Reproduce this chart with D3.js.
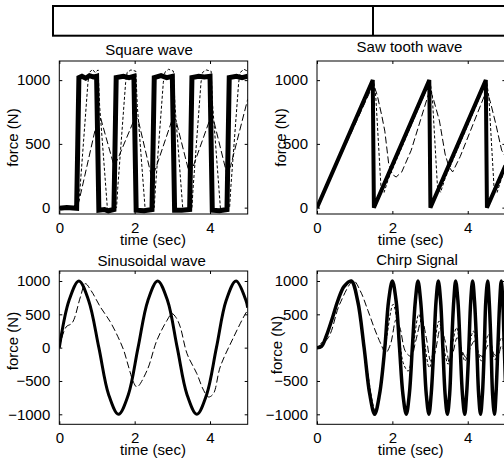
<!DOCTYPE html>
<html>
<head>
<meta charset="UTF-8">
<title>Force tracking</title>
<script src="https://d3js.org/d3.v7.min.js"></script>
<style>
body { margin: 0; background: #fff; }
text { font-family: Arial, "Liberation Sans", Helvetica, sans-serif; font-size: 15px; fill: #000; }
</style>
</head>
<body>
<div id="fig"></div>
<script>

// ---- data : [time (sec), force (N)]

var xTicks = [0, 2, 4]
var yTicksTop = [0, 500, 1000]
var yTicksBottom = [-1000, -500, 0, 500, 1000]

var squareThick = [[0,-5],[0.2,0],[0.46,-5],[0.49,500],[0.52,1020],[0.6,1030],[0.7,1015],[0.8,1035],[0.9,1025],[0.99,1030],[1.02,500],[1.05,-20],[1.2,-15],[1.3,-25],[1.45,-15],[1.48,500],[1.51,1020],[1.7,1030],[1.85,1020],[1.98,1030],[2.01,500],[2.04,-20],[2.25,-25],[2.46,-15],[2.49,500],[2.52,1020],[2.7,1035],[2.85,1020],[3.0,1030],[3.03,500],[3.06,-20],[3.25,-20],[3.46,-15],[3.49,500],[3.52,1020],[3.7,1030],[3.85,1025],[4.0,1030],[4.03,500],[4.06,-20],[4.25,-25],[4.45,-15],[4.48,500],[4.51,1020],[4.7,1030],[4.85,1020],[5.0,1030]]
var squareDotted = [[0,0],[0.5,0],[0.55,150],[0.76,980],[0.8,1060],[0.88,1085],[0.95,1060],[1.03,1080],[1.07,800],[1.28,-20],[1.52,0],[1.55,150],[1.76,980],[1.8,1060],[1.9,1080],[2.03,1070],[2.07,800],[2.28,-20],[2.52,0],[2.55,150],[2.76,980],[2.8,1060],[2.9,1085],[3.03,1070],[3.07,800],[3.28,-20],[3.52,0],[3.55,150],[3.76,980],[3.8,1060],[3.9,1080],[4.03,1070],[4.07,800],[4.28,-20],[4.52,0],[4.55,150],[4.76,980],[4.8,1060],[4.9,1085],[5.0,1070]]
var squareDashed = [[0,0],[0.48,0],[0.6,150],[1.05,740],[1.1,700],[1.45,330],[1.55,380],[2.03,720],[2.1,680],[2.45,240],[2.55,300],[3.03,720],[3.1,680],[3.45,270],[3.55,320],[4.03,720],[4.1,680],[4.45,260],[4.55,330],[5.0,850]]

var sawThick = [[0,0],[1.48,1000],[1.51,0],[2.98,1000],[3.01,0],[4.48,1000],[4.51,0],[5,330]]
var sawDotted = [[0,0],[1.5,990],[1.56,870],[1.7,150],[1.78,120],[1.9,230],[3.0,990],[3.06,870],[3.2,150],[3.28,120],[3.4,230],[4.5,990],[4.56,870],[4.7,150],[4.78,120],[4.9,230],[5,300]]
var sawDashed = [[0,0],[1.5,970],[1.6,880],[1.72,720],[1.8,600],[1.9,350],[2.0,260],[2.1,240],[2.25,280],[2.5,450],[3.0,930],[3.1,840],[3.25,680],[3.4,420],[3.5,320],[3.6,280],[3.8,400],[4.5,920],[4.6,830],[4.75,650],[4.9,450],[5,400]]

var sineThick = [[0,0],[0.26,710],[0.52,1000],[0.78,705],[1.05,0],[1.31,-705],[1.57,-1000],[1.83,-710],[2.09,0],[2.35,705],[2.61,1000],[2.87,710],[3.13,0],[3.39,-705],[3.65,-1000],[3.91,-705],[4.17,0],[4.43,710],[4.69,1000],[4.95,715],[5.0,600]]
var sineDashed = [[0,0],[0.18,310],[0.34,370],[0.56,760],[0.69,960],[0.85,850],[1.09,610],[1.35,390],[1.55,170],[1.71,-40],[1.84,-290],[1.97,-520],[2.06,-590],[2.33,-340],[2.59,110],[2.86,410],[2.99,510],[3.1,450],[3.21,310],[3.39,-90],[3.65,-390],[3.83,-640],[3.96,-740],[4.09,-690],[4.27,-290],[4.62,150],[4.93,500],[5,560]]

var chirpThick = [[0,0],[0.12,20],[0.25,180],[0.4,430],[0.55,700],[0.72,920],[0.91,1000],[1.08,700],[1.25,0],[1.4,-700],[1.53,-1000],[1.66,-700],[1.8,0],[1.9,700],[2.0,1000],[2.1,700],[2.19,0],[2.28,-700],[2.37,-1000],[2.45,-700],[2.53,0],[2.61,700],[2.68,1000],[2.75,700],[2.83,0],[2.9,-700],[2.97,-1000],[3.03,-700],[3.1,0],[3.16,700],[3.22,1000],[3.28,700],[3.34,0],[3.4,-700],[3.46,-1000],[3.52,-700],[3.57,0],[3.63,700],[3.68,1000],[3.74,700],[3.8,0],[3.86,-700],[3.92,-1000],[3.97,-700],[4.03,0],[4.08,700],[4.13,1000],[4.18,700],[4.24,0],[4.29,-700],[4.34,-1000],[4.39,-700],[4.44,0],[4.48,700],[4.53,1000],[4.57,700],[4.62,0],[4.66,-700],[4.71,-1000],[4.75,-700],[4.8,0],[4.85,700],[4.89,1000],[4.93,700],[4.97,0],[5.0,-500]]
var chirpDotted = [[0,0],[0.25,170],[0.5,620],[0.75,930],[0.93,980],[1.1,650],[1.3,-200],[1.55,-950],[1.7,-500],[1.85,150],[2.02,650],[2.15,300],[2.3,-250],[2.42,-350],[2.55,0],[2.7,500],[2.82,200],[2.98,-300],[3.1,0],[3.24,400],[3.35,50],[3.48,-250],[3.58,0],[3.7,300],[3.8,50],[3.93,-200],[4.03,0],[4.15,250],[4.25,0],[4.36,-200],[4.45,0],[4.55,200],[4.63,0],[4.73,-180],[4.8,0],[4.9,150],[5,-50]]
var chirpDashed = [[0,0],[0.3,150],[0.6,650],[0.97,1000],[1.15,850],[1.35,560],[1.55,250],[1.7,50],[1.82,-80],[1.95,50],[2.1,420],[2.2,300],[2.35,-60],[2.5,-130],[2.62,100],[2.78,420],[2.9,150],[3.02,-200],[3.12,-100],[3.28,300],[3.4,100],[3.52,-230],[3.62,-50],[3.72,150],[3.85,-50],[3.96,-150],[4.07,0],[4.18,100],[4.3,-100],[4.4,-130],[4.5,0],[4.6,80],[4.7,-100],[4.8,-120],[4.9,30],[5,-50]]

// ---- layout

var W = 504, H = 466

var svg = d3.select("#fig").append("svg")
	.attr("width", W)
	.attr("height", H)

// the box strip along the top
svg.append("rect")
	.attr("x", 53).attr("y", 6)
	.attr("width", 470).attr("height", 29.7)
	.attr("fill", "none").attr("stroke", "#000").attr("stroke-width", 2)
svg.append("line")
	.attr("x1", 373).attr("x2", 373).attr("y1", 6).attr("y2", 35.7)
	.attr("stroke", "#000").attr("stroke-width", 2)

var panels = [
	{ id: "sq", title: "Square wave", left: 59.3, right: 247.7, top: 61, bottom: 214, ydom: [-50, 1150], yticks: yTicksTop,
	  titleX: 149, titleY: 55, ylabX: 12.5, ylabY: 137.5, curve: d3.curveLinear, thickW: 5,
	  thick: squareThick, dotted: squareDotted, dashed: squareDashed },
	{ id: "saw", title: "Saw tooth wave", left: 317, right: 505.4, top: 61, bottom: 214, ydom: [-50, 1150], yticks: yTicksTop,
	  titleX: 409.5, titleY: 52, ylabX: 281, ylabY: 137.5, curve: d3.curveLinear, thickW: 4,
	  thick: sawThick, dotted: sawDotted, dashed: sawDashed },
	{ id: "sin", title: "Sinusoidal wave", left: 59.3, right: 247.7, top: 271, bottom: 424.3, ydom: [-1150, 1150], yticks: yTicksBottom,
	  titleX: 151.7, titleY: 266, ylabX: 12.5, ylabY: 341, curve: d3.curveCatmullRom, thickW: 3,
	  thick: sineThick, dotted: null, dashed: sineDashed },
	{ id: "chirp", title: "Chirp Signal", left: 317, right: 505.4, top: 271, bottom: 424.3, ydom: [-1150, 1150], yticks: yTicksBottom,
	  titleX: 417, titleY: 265, ylabX: 277, ylabY: 345, curve: d3.curveCatmullRom, thickW: 3.5,
	  thick: chirpThick, dotted: chirpDotted, dashed: chirpDashed }
]

panels.forEach(function(p) {
	var x = d3.scaleLinear().domain([0, 5]).range([p.left, p.right])
	var y = d3.scaleLinear().domain(p.ydom).range([p.bottom, p.top])
	var g = svg.append("g").attr("class", "panel " + p.id)

	g.append("clipPath").attr("id", "clip-" + p.id)
		.append("rect")
		.attr("x", p.left).attr("y", p.top)
		.attr("width", p.right - p.left).attr("height", p.bottom - p.top)

	var line = d3.line()
		.x(function(d) { return x(d[0]) })
		.y(function(d) { return y(d[1]) })
		.curve(p.curve)

	var plot = g.append("g").attr("clip-path", "url(#clip-" + p.id + ")")

	if (p.dashed) plot.append("path").datum(p.dashed)
		.attr("d", line).attr("fill", "none").attr("stroke", "#000")
		.attr("stroke-width", 1).attr("stroke-dasharray", "7,3")
	if (p.dotted) plot.append("path").datum(p.dotted)
		.attr("d", line).attr("fill", "none").attr("stroke", "#000")
		.attr("stroke-width", 1).attr("stroke-dasharray", "3,2")
	plot.append("path").datum(p.thick)
		.attr("d", line).attr("fill", "none").attr("stroke", "#000")
		.attr("stroke-width", p.thickW).attr("stroke-linejoin", "miter")

	// matlab style axes: ticks inward on all four sides
	var tk = 3
	var axB = g.append("g").attr("transform", "translate(0," + p.bottom + ")")
		.call(d3.axisBottom(x).tickValues(xTicks).tickSize(-tk).tickPadding(8).tickFormat(d3.format("d")))
	var axT = g.append("g").attr("transform", "translate(0," + p.top + ")")
		.call(d3.axisTop(x).tickValues(xTicks).tickSize(-tk).tickFormat(""))
	var axL = g.append("g").attr("transform", "translate(" + p.left + ",0)")
		.call(d3.axisLeft(y).tickValues(p.yticks).tickSize(-tk).tickPadding(9).tickFormat(d3.format("d")))
	var axR = g.append("g").attr("transform", "translate(" + p.right + ",0)")
		.call(d3.axisRight(y).tickValues(p.yticks).tickSize(-tk).tickFormat(""))

	;[axB, axT, axL, axR].forEach(function(a) {
		a.selectAll(".domain").remove()
		a.selectAll("line").attr("stroke", "#000")
		a.selectAll("text").attr("font-size", 15).attr("font-family", null).attr("fill", "#000")
	})

	g.append("rect")
		.attr("x", p.left).attr("y", p.top)
		.attr("width", p.right - p.left).attr("height", p.bottom - p.top)
		.attr("fill", "none").attr("stroke", "#000").attr("stroke-width", 1)

	g.append("text").text(p.title)
		.attr("x", p.titleX).attr("y", p.titleY).attr("text-anchor", "middle")
	g.append("text").text("time (sec)")
		.attr("x", (p.left + p.right) / 2 - 0.5).attr("y", p.bottom + 31).attr("text-anchor", "middle")
	g.append("text").text("force (N)")
		.attr("transform", "translate(" + (p.ylabX + 5) + "," + p.ylabY + ") rotate(-90)")
		.attr("text-anchor", "middle")
})

</script>
</body>
</html>
